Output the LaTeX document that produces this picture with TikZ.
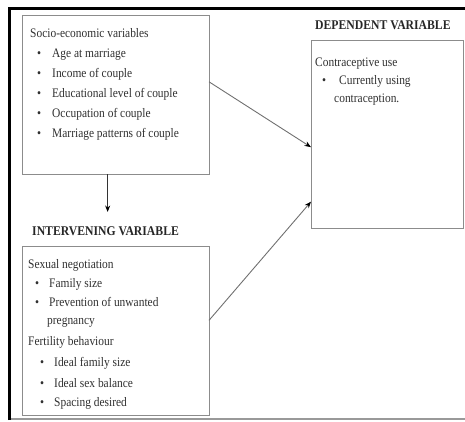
\documentclass[tikz,border=0pt]{standalone}
\usepackage{fontspec}
\setmainfont{Liberation Serif}[FakeStretch=0.88]
\usetikzlibrary{arrows.meta,calc}
\definecolor{txt}{HTML}{303030}
\definecolor{boxline}{HTML}{8C8C8C}
\definecolor{arrline}{HTML}{707070}
\begin{document}
\begin{tikzpicture}[x=1pt,y=-1pt,
  box/.style={draw=boxline,line width=1pt,inner sep=0pt,outer sep=0pt,anchor=north west,fill=white},
  line/.style={anchor=base west,inner sep=0pt,text=txt,font=\fontsize{13}{15}\selectfont},
  headline/.style={anchor=base west,inner sep=0pt,text=black!85,font=\fontsize{13.3}{15}\selectfont\bfseries},
  conn/.style={draw=arrline,line width=0.9pt,-{Stealth[length=6.5pt,width=5pt,black]}}]
\useasboundingbox (0,0) rectangle (465,421);
% frame
\draw[black!40,line width=1.5pt] (9,419) -- (465,419);
\draw[black,line width=3pt] (9,420) -- (9,8) -- (465,8);
% boxes
\node[box,minimum width=187pt,minimum height=159pt] (b1) at (22,15) {};
\node[box,minimum width=187pt,minimum height=169pt] (b2) at (22,246) {};
\node[box,minimum width=152pt,minimum height=188pt] (b3) at (311,40) {};
% box 1 text
\node[line] (t1) at (30,37) {Socio-economic variables};
\node[line] (t1ab) at (37,57) {\textbullet};
\node[line] (t1a) at (52,57) {Age at marriage};
\node[line] (t1bb) at (37,77) {\textbullet};
\node[line] (t1b) at (52,77) {Income of couple};
\node[line] (t1cb) at (37,97) {\textbullet};
\node[line] (t1c) at (52,97) {Educational level of couple};
\node[line] (t1db) at (37,117) {\textbullet};
\node[line] (t1d) at (52,117) {Occupation of couple};
\node[line] (t1eb) at (37,137) {\textbullet};
\node[line] (t1e) at (52,137) {Marriage patterns of couple};
% intervening
\node[headline] (h2) at (32,235) {INTERVENING VARIABLE};
\node[line] (t2) at (28,268) {Sexual negotiation};
\node[line] (t2ab) at (35,287) {\textbullet};
\node[line] (t2a) at (49,287) {Family size};
\node[line] (t2bb) at (35,306) {\textbullet};
\node[line] (t2b) at (49,306) {Prevention of unwanted};
\node[line] (t2c) at (47,324) {pregnancy};
\node[line] (t3) at (28,345) {Fertility behaviour};
\node[line] (t3ab) at (40,366) {\textbullet};
\node[line] (t3a) at (54,366) {Ideal family size};
\node[line] (t3bb) at (40,387) {\textbullet};
\node[line] (t3b) at (54,387) {Ideal sex balance};
\node[line] (t3cb) at (40,406) {\textbullet};
\node[line] (t3c) at (54,406) {Spacing desired};
% dependent
\node[headline] (h3) at (315,29) {DEPENDENT VARIABLE};
\node[line] (t4) at (315,66) {Contraceptive use};
\node[line] (t4ab) at (322,84) {\textbullet};
\node[line] (t4a) at (339,84) {Currently using};
\node[line] (t4b) at (334,102) {contraception.};
% connectors
\coordinate (s1) at ($(b1.north east)!0.42!(b1.south east)$);
\coordinate (e1) at ($(b3.north west)!0.57!(b3.south west)$);
\coordinate (s2) at ($(b2.north east)!0.44!(b2.south east)$);
\coordinate (e2) at ($(b3.north west)!0.86!(b3.south west)$);
\coordinate (s3) at ($(b1.south west)!0.458!(b1.south east)$);
\coordinate (e3) at ($(s3)+(0,38)$);
\draw[conn] (s1) -- (e1);
\draw[conn] (s2) -- (e2);
\draw[conn,draw=black!80] (s3) -- (e3);
\end{tikzpicture}
\end{document}
